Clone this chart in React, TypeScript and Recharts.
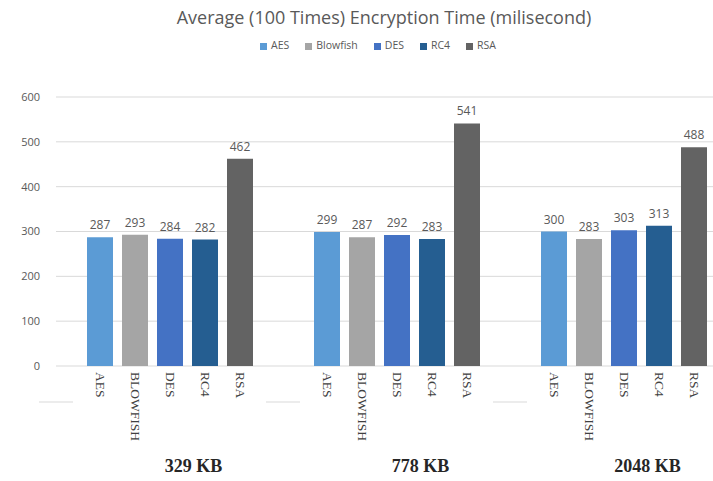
import React from 'react';
import { BarChart, Bar, XAxis, YAxis, CartesianGrid, Legend, LabelList } from 'recharts';

const fileSizes = ['329 KB', '778 KB', '2048 KB'];
const aes = [287, 299, 300];
const blowfish = [293, 287, 283];
const des = [284, 292, 303];
const rc4 = [282, 283, 313];
const rsa = [462, 541, 488];
const yTicks = [0, 100, 200, 300, 400, 500, 600];

const series = [
  { key: 'AES', name: 'AES', axisName: 'AES', color: '#5B9BD5', values: aes },
  { key: 'Blowfish', name: 'Blowfish', axisName: 'BLOWFISH', color: '#A5A5A5', values: blowfish },
  { key: 'DES', name: 'DES', axisName: 'DES', color: '#4472C4', values: des },
  { key: 'RC4', name: 'RC4', axisName: 'RC4', color: '#255E91', values: rc4 },
  { key: 'RSA', name: 'RSA', axisName: 'RSA', color: '#636363', values: rsa },
];

const data = fileSizes.map((size, i) => {
  const row: Record<string, string | number> = { size };
  series.forEach((s) => {
    row[s.key] = s.values[i];
  });
  return row;
});

const CHART_W = 737;
const CHART_H = 481;
const PLOT_LEFT = 56;
const HALF_BAND = (CHART_W - PLOT_LEFT) / fileSizes.length / 2;

// rotated algorithm name under each bar
const nameLabel = (text: string) => (props: any) => {
  const { x, y, width, height } = props;
  const cx = Number(x) + Number(width) / 2;
  const top = Number(y) + Number(height) + 6;
  return (
    <text
      x={cx}
      y={top}
      transform={`rotate(90 ${cx} ${top})`}
      textAnchor="start"
      dominantBaseline="central"
      fontFamily="'Liberation Serif', serif"
      fontSize={13.5}
      fill="#404040"
    >
      {text}
    </text>
  );
};

const GroupTick = (props: any) => {
  const { x, payload } = props;
  const edge = x - HALF_BAND;
  return (
    <g>
      <line x1={edge - 17} x2={edge + 17} y1={402} y2={402} stroke="#d9d9d9" />
      <text
        x={x + 24}
        y={466}
        textAnchor="middle"
        dominantBaseline="central"
        fontFamily="'Liberation Serif', serif"
        fontWeight="bold"
        fontSize={18}
        fill="#262626"
      >
        {payload.value}
      </text>
    </g>
  );
};

export default function App() {
  return (
    <div
      style={{
        position: 'absolute',
        left: 0,
        top: 0,
        width: 713,
        height: 481,
        overflow: 'hidden',
        background: '#fff',
      }}
    >
      <div
        style={{
          position: 'absolute',
          top: 5,
          left: 0,
          width: 768,
          textAlign: 'center',
          fontFamily: "'Open Sans', sans-serif",
          fontSize: 18,
          color: '#595959',
        }}
      >
        Average (100 Times) Encryption Time (milisecond)
      </div>
      <BarChart
        width={CHART_W}
        height={CHART_H}
        data={data}
        margin={{ top: 83, right: 0, bottom: 0, left: 0 }}
        barCategoryGap={31}
        barGap={9}
      >
        <CartesianGrid vertical={false} stroke="#d9d9d9" />
        <XAxis
          dataKey="size"
          height={115}
          axisLine={false}
          tickLine={false}
          interval={0}
          tick={<GroupTick />}
        />
        <YAxis
          domain={[0, 600]}
          ticks={yTicks}
          width={PLOT_LEFT}
          axisLine={false}
          tickLine={false}
          tickSize={0}
          tickMargin={16}
          tick={{ fill: '#595959', fontSize: 11, fontFamily: "'Open Sans', sans-serif" }}
        />
        <Legend
          verticalAlign="top"
          iconType="square"
          iconSize={7}
          wrapperStyle={{
            top: 38,
            left: 0,
            width: 772,
            fontSize: 10.5,
            fontFamily: "'Open Sans', sans-serif",
          }}
          formatter={(value: string) => (
            <span style={{ color: '#595959', marginRight: 6 }}>{value}</span>
          )}
        />
        {series.map((s) => (
          <Bar key={s.key} dataKey={s.key} name={s.name} fill={s.color} isAnimationActive={false}>
            <LabelList
              dataKey={s.key}
              position="top"
              offset={8}
              fill="#595959"
              fontSize={12}
              fontFamily="'Open Sans', sans-serif"
            />
            <LabelList dataKey={s.key} content={nameLabel(s.axisName)} />
          </Bar>
        ))}
      </BarChart>
    </div>
  );
}
